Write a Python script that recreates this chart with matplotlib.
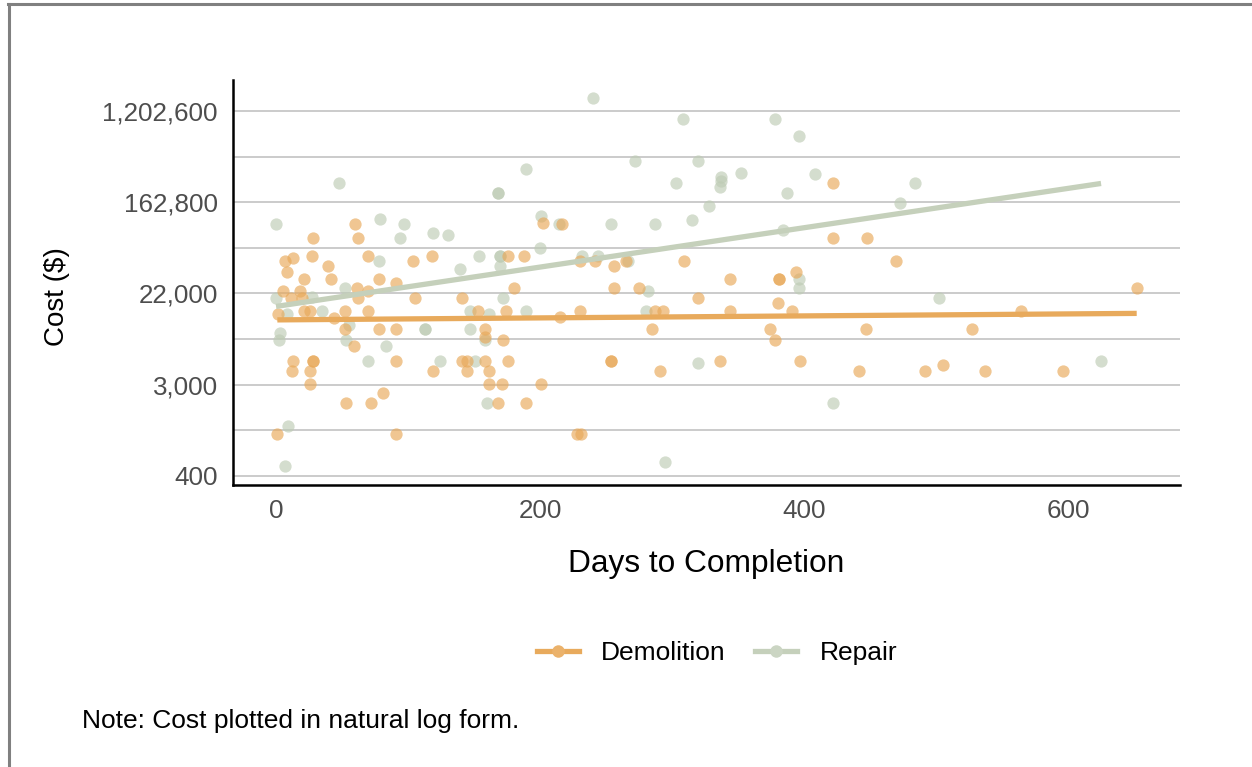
import numpy as np
import matplotlib
matplotlib.use("Agg")
import matplotlib.pyplot as plt
from matplotlib.lines import Line2D
from matplotlib.ticker import FixedLocator, FuncFormatter

plt.rcParams['font.family'] = ['Liberation Sans', 'DejaVu Sans']

# Demolition projects: days to completion, cost in dollars
demo_days = [60, 28, 62, 7, 13, 27, 8, 39, 21, 42, 70, 104, 118, 78, 91, 61, 5, 18, 70,
             11, 20, 21, 26, 1.5, 44, 52, 70, 62, 52, 59, 78, 91, 105, 141, 13, 28, 28,
             12, 26, 26, 91, 119, 141, 145, 145, 53, 72, 81, 1, 91,
             202, 217, 176, 188, 230, 242, 256, 265, 309, 180, 256, 275, 320, 153, 174,
             215, 230, 287, 293, 158, 158, 172, 285, 158, 176, 254, 254, 161, 291, 161,
             171, 201, 168, 189, 228, 231,
             422, 422, 448, 470, 344, 381, 381, 394, 380, 344, 391, 374, 378, 447, 336,
             397, 442, 492, 564, 652, 527, 505, 537, 596]
demo_cost = [100000, 75000, 75000, 45000, 48000, 50000, 35000, 40000, 30000, 30000,
             50000, 45000, 50000, 30000, 28000, 25000, 23000, 23000, 23000, 20000, 20000,
             15000, 15000, 14000, 12800, 15000, 15000, 20000, 10000, 7000, 10000, 10000,
             20000, 20000, 5000, 5000, 5000, 4000, 4000, 3000, 5000, 4000, 5000, 5000,
             4000, 2000, 2000, 2500, 1000, 1000,
             104000, 100000, 50000, 50000, 45000, 45000, 40000, 45000, 45000, 25000,
             25000, 25000, 20000, 15000, 15000, 13000, 15000, 15000, 15000, 10000, 8500,
             8000, 10000, 5000, 5000, 5000, 5000, 4000, 4000, 3000, 3000, 3000, 2000,
             2000, 1000, 1000,
             250000, 75000, 75000, 45000, 30000, 30000, 30000, 35000, 18000, 15000,
             15000, 10000, 8000, 10000, 5000, 5000, 4000, 4000, 15000, 25000, 10000,
             4600, 4000, 4000]

# Repair projects
repair_days = [48, 0, 79, 97, 94, 119, 130, 78, 139, 52, 0, 27, 8, 35, 55, 3, 2, 53,
               113, 113, 83, 70, 124, 9, 7, 147, 147,
               240, 308, 272, 320, 189, 303, 168, 168, 201, 214, 254, 287, 315, 200, 154,
               170, 170, 170, 232, 244, 267, 282, 172, 161, 189, 280, 158, 151, 320, 160,
               295,
               378, 396, 337, 337, 336, 352, 408, 387, 484, 473, 328, 384, 396, 396, 422,
               502, 625]
repair_cost = [250000, 100000, 112000, 100000, 75000, 83000, 80000, 45000, 38000, 25000,
               20000, 20500, 14000, 15000, 11000, 9200, 8000, 8000, 10000, 10000, 7000,
               5000, 5000, 1200, 500, 15000, 10000,
               1600000, 1000000, 400000, 400000, 340000, 250000, 200000, 200000, 120000,
               100000, 100000, 100000, 110000, 60000, 50000, 50000, 50000, 40000, 50000,
               50000, 45000, 23000, 20000, 14000, 15000, 15000, 8000, 5000, 4800, 2000,
               550,
               1000000, 700000, 280000, 260000, 226000, 310000, 300000, 200000, 250000,
               160000, 150000, 88000, 30000, 25000, 2000, 20000, 5000]

groups = ['Repair', 'Demolition']
colors = {'Demolition': '#E8A858', 'Repair': '#BECBB4'}
line_colors = {'Demolition': '#E8AA5C', 'Repair': '#C5D0BB'}
legend_dot = {'Demolition': '#EBB26B', 'Repair': '#CBD5C3'}
data = {'Demolition': (demo_days, demo_cost), 'Repair': (repair_days, repair_cost)}

fig = plt.figure(figsize=(12.52, 7.67), dpi=100)
ax = fig.add_axes([233 / 1252, 1 - 485 / 767, (1180 - 233) / 1252, (485 - 80) / 767])

# points first (repair underneath), then the linear fits on top
for g in groups:
    d, c = data[g]
    ax.scatter(d, np.log(c), s=78, color=colors[g], alpha=0.65, linewidths=0, zorder=2)

for g in ['Demolition', 'Repair']:
    d, c = data[g]
    d = np.array(d, dtype=float)
    slope, icpt = np.polyfit(d, np.log(c), 1)
    xs = np.array([d.min(), d.max()])
    ax.plot(xs, icpt + slope * xs, color=line_colors[g], lw=3.8,
            solid_capstyle='butt', zorder=3)

ax.set_xlim(-32.6, 684.8)
ax.set_ylim(5.80, 14.68)
ax.set_xticks([0, 200, 400, 600])
ax.yaxis.set_major_locator(FixedLocator([6, 8, 10, 12, 14]))
ax.yaxis.set_minor_locator(FixedLocator([7, 9, 11, 13]))
ax.yaxis.set_major_formatter(FuncFormatter(lambda v, p: f"{round(np.exp(v), -2):,.0f}"))
ax.grid(True, axis='y', which='both', color='#BDBDBD', lw=1.1, zorder=0)
ax.set_axisbelow(True)
ax.tick_params(axis='both', which='both', length=0, labelsize=18.7, labelcolor='#4D4D4D')
ax.tick_params(axis='y', pad=11)
ax.tick_params(axis='x', pad=10)
for s in ['top', 'right']:
    ax.spines[s].set_visible(False)
for s in ['left', 'bottom']:
    ax.spines[s].set_linewidth(1.8)
    ax.spines[s].set_color('black')

ax.set_xlabel('Days to Completion', fontsize=22.8, labelpad=19)
# y title placed by hand in figure coordinates, centred on its own box
fig.text(57 / 1252, 1 - 297 / 767, 'Cost ($)', fontsize=20, rotation=90,
         ha='center', va='center')

handles = [Line2D([], [], color=line_colors[g], lw=3.8, marker='o', markersize=9,
                  markerfacecolor=legend_dot[g], markeredgewidth=0)
           for g in ['Demolition', 'Repair']]
fig.legend(handles, ['Demolition', 'Repair'], loc='center',
           bbox_to_anchor=(717 / 1252, 1 - 653 / 767), ncol=2, frameon=False,
           fontsize=19, handlelength=1.6, columnspacing=1.1, handletextpad=0.85)

fig.text(82 / 1252, 1 - 721 / 767, 'Note: Cost plotted in natural log form.',
         fontsize=19, va='center', ha='left')

# outer frame (top and left edges only)
fig.add_artist(Line2D([8 / 1252, 1], [1 - 4 / 767, 1 - 4 / 767],
                      transform=fig.transFigure, color='#808080', lw=2.2))
fig.add_artist(Line2D([9 / 1252, 9 / 1252], [0, 1 - 4 / 767],
                      transform=fig.transFigure, color='#808080', lw=2.2))

fig.savefig('out.png', dpi=100)
